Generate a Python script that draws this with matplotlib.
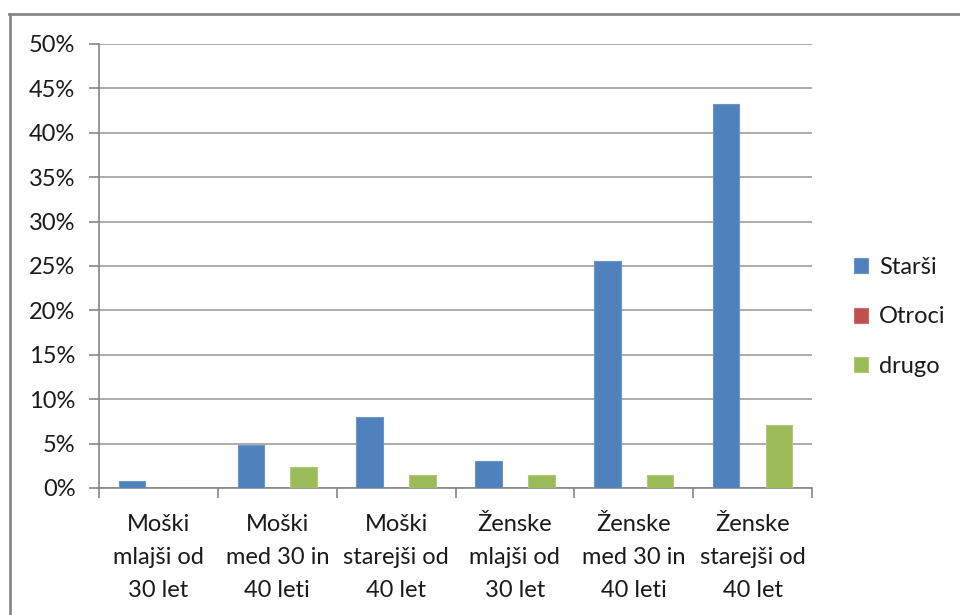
import numpy as np
import matplotlib.pyplot as plt
from matplotlib.lines import Line2D
from matplotlib.ticker import FuncFormatter, MultipleLocator

plt.rcParams['font.family'] = ['Lato', 'DejaVu Sans']

# Age / gender groups
categories = [
    'Moški\nmlajši od\n30 let',
    'Moški\nmed 30 in\n40 leti',
    'Moški\nstarejši od\n40 let',
    'Ženske\nmlajši od\n30 let',
    'Ženske\nmed 30 in\n40 leti',
    'Ženske\nstarejši od\n40 let',
]
series_names = ['Starši', 'Otroci', 'drugo']
starsi = [0.75, 4.85, 7.95, 3.0, 25.6, 43.2]
otroci = [0, 0, 0, 0, 0, 0]
drugo = [0, 2.35, 1.45, 1.45, 1.45, 7.1]
colors = ['#4F81BD', '#C0504D', '#9BBB59']
edges = ['#6A95C9', '#CC6C69', '#AFC97A']

FS = 17

fig = plt.figure(figsize=(9.6, 6.15), dpi=100)
W, H = 960, 615
ax = fig.add_axes([99 / W, (H - 488) / H, (812 - 99) / W, (488 - 44) / H])

x = np.arange(len(categories))
bar_width = 1 / 4.5
for i, (vals, name) in enumerate(zip([starsi, otroci, drugo], series_names)):
    ax.bar(x + (i - 1) * bar_width, vals, bar_width, label=name,
           color=colors[i], edgecolor=edges[i], linewidth=0.8, zorder=3)

ax.set_xlim(-0.5, len(categories) - 0.5)
ax.set_ylim(0, 50)
ax.yaxis.set_major_locator(MultipleLocator(5))
ax.yaxis.set_major_formatter(FuncFormatter(lambda v, p: f'{v:.0f}%'))
ax.grid(axis='y', color='#A6A6A6', linewidth=1.3, zorder=0)

# category boundaries carry the x tick marks; labels sit at centres
ax.set_xticks(np.arange(len(categories) + 1) - 0.5)
ax.set_xticklabels([])
ax.set_xticks(x, minor=True)
ax.set_xticklabels(categories, minor=True, fontsize=FS, linespacing=1.7,
                   color='#1A1A1A')
ax.tick_params(axis='x', which='minor', length=0, pad=19)
ax.tick_params(axis='x', which='major', length=7, width=1.2, color='#868686')
ax.tick_params(axis='y', length=7, width=1.2, color='#868686', labelsize=FS,
               labelcolor='#1A1A1A', pad=10)

for s in ['top', 'right']:
    ax.spines[s].set_visible(False)
for s in ['left', 'bottom']:
    ax.spines[s].set_color('#868686')
    ax.spines[s].set_linewidth(1.2)

fig.legend(loc='center left', bbox_to_anchor=(833 / W, (H - 317) / H),
           frameon=False, fontsize=FS, handlelength=0.6, handleheight=0.6,
           handletextpad=0.45, labelspacing=1.2, labelcolor='#1A1A1A')

# chart area border
fig.add_artist(Line2D([9 / W, 1], [1 - 14 / H, 1 - 14 / H], color='#878787',
                      linewidth=2, transform=fig.transFigure))
fig.add_artist(Line2D([10 / W, 10 / W], [0, 1 - 14 / H], color='#878787',
                      linewidth=2, transform=fig.transFigure))

fig.savefig('out.png', dpi=100, facecolor='white')
